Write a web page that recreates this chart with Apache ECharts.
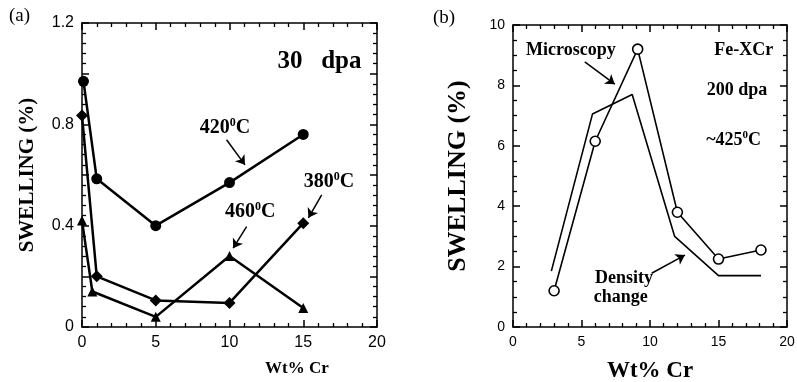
<!DOCTYPE html>
<html><head><meta charset="utf-8">
<script src="https://cdn.jsdelivr.net/npm/echarts@6/dist/echarts.min.js"></script>
<style>html,body{margin:0;padding:0;background:#fff}#c{width:797px;height:382px}</style>
</head><body><div id="c"></div>
<script>
// ---- Panel (a): 30 dpa ----
const a420x = [0.1, 1, 5, 10, 15];
const a420y = [0.97, 0.585, 0.40, 0.57, 0.76];
const a380x = [0, 1, 5, 10, 15];
const a380y = [0.835, 0.20, 0.105, 0.095, 0.41];
const a460x = [0, 0.7, 5, 10, 15];
const a460y = [0.42, 0.14, 0.04, 0.28, 0.075];
const aYLabels = ['0', '0.4', '0.8', '1.2'];
// ---- Panel (b): Fe-XCr, 200 dpa, ~425C ----
const bMicX = [3, 6, 9.1, 12, 15, 18.1];
const bMicY = [1.2, 6.15, 9.2, 3.8, 2.25, 2.55];
const bDenX = [2.8, 5.8, 8.7, 11.8, 15, 18.1];
const bDenY = [1.85, 7.05, 7.7, 3.0, 1.7, 1.7];

const zip = (xs, ys) => xs.map((x, i) => [x, ys[i]]);
const serif = 'Liberation Serif';
const sans = 'Liberation Sans';

function baseAx(grid, pos, show, fs, minorSplit) {
  return {
    type: 'value', gridIndex: grid, position: pos, min: 0,
    axisLine: { show: true, onZero: false, lineStyle: { color: '#000', width: 1.5 } },
    axisTick: { show: true, inside: true, length: 7, lineStyle: { color: '#000', width: 1.5 } },
    minorTick: { show: true, splitNumber: minorSplit, length: 4, lineStyle: { color: '#000', width: 1.3 } },
    splitLine: { show: false },
    axisLabel: { show: show, color: '#000', fontSize: fs, fontFamily: sans, margin: 8 }
  };
}
function xAx(grid, pos, show, fs) {
  const a = baseAx(grid, pos, show, fs, 5);
  a.max = 20; a.interval = 5;
  return a;
}
function yAxA(pos, show) {
  // 0..1.2 with nice auto step of 0.2 (six splits)
  const a = baseAx(0, pos, show, 16, 5);
  a.max = 1.2; a.splitNumber = 6;
  a.axisLabel.formatter = (v) => { const k = Math.round(v * 10); return k % 4 === 0 ? aYLabels[k / 4] : ''; };
  return a;
}
function yAxB(pos, show) {
  const a = baseAx(1, pos, show, 14, 4);
  a.max = 10; a.interval = 2;
  return a;
}

const supRich = (fs) => ({
  n: { fontFamily: serif, fontWeight: 'bold', fontSize: fs, color: '#000', lineHeight: fs + 2 },
  s: { fontFamily: serif, fontWeight: 'bold', fontSize: Math.round(fs * 0.62), color: '#000', verticalAlign: 'top', lineHeight: fs + 2 }
});
function txt(x, y, rich, fs) {
  return { coord: [x, y], value: 0, symbolSize: 0,
    label: { show: true, position: 'inside', formatter: rich, rich: supRich(fs) } };
}
function arrow(x1, y1, x2, y2) {
  return [{ coord: [x1, y1] }, { coord: [x2, y2] }];
}
const axisName = (fs) => ({ fontFamily: serif, fontWeight: 'bold', fontSize: fs, color: '#000' });

const xa0 = xAx(0, 'bottom', true, 16);
const xb0 = xAx(1, 'bottom', true, 14);
xb0.name = 'Wt% Cr'; xb0.nameLocation = 'middle'; xb0.nameGap = 33; xb0.nameTextStyle = axisName(23);
const ya0 = yAxA('left', true);
ya0.name = 'SWELLING (%)'; ya0.nameLocation = 'middle'; ya0.nameGap = 44; ya0.nameRotate = 90; ya0.nameTextStyle = axisName(21);
const yb0 = yAxB('left', true);
yb0.name = 'SWELLING (%)'; yb0.nameLocation = 'middle'; yb0.nameGap = 42; yb0.nameRotate = 90; yb0.nameTextStyle = axisName(26);
const ya1 = yAxA('right', false);
delete ya1.axisLabel.formatter;

const lineA = { color: '#000', width: 2.5 };
const lineB = { color: '#000', width: 1.6 };

const option = {
  animation: false,
  backgroundColor: '#fff',
  title: [
    { text: '(a)', left: 4, top: 2, textStyle: { fontFamily: serif, fontWeight: 'normal', fontSize: 19, color: '#000' } },
    { text: '(b)', left: 428, top: 4, textStyle: { fontFamily: serif, fontWeight: 'normal', fontSize: 19, color: '#000' } },
    { text: 'Wt% Cr', left: 265, top: 360, padding: 0, textStyle: { fontFamily: serif, fontWeight: 'bold', fontSize: 17, color: '#000' } }
  ],
  grid: [
    { left: 82, top: 23, width: 295, height: 304, outerBoundsMode: 'none' },
    { left: 513, top: 25, width: 274, height: 302, outerBoundsMode: 'none' }
  ],
  xAxis: [xa0, xAx(0, 'top', false, 16), xb0, xAx(1, 'top', false, 14)],
  yAxis: [ya0, ya1, yb0, yAxB('right', false)],
  series: [
    { type: 'line', xAxisIndex: 0, yAxisIndex: 0, data: zip(a420x, a420y), symbol: 'circle', symbolSize: 11,
      itemStyle: { color: '#000' }, lineStyle: lineA,
      markPoint: { silent: true, data: [
        txt(16.1, 1.047, '{n|30   dpa}', 25),
        txt(9.7, 0.787, '{n|420}{s|0}{n|C}', 20),
        txt(16.75, 0.573, '{n|380}{s|0}{n|C}', 20),
        txt(11.4, 0.455, '{n|460}{s|0}{n|C}', 20)
      ] },
      markLine: { silent: true, symbol: ['none', 'arrow'], symbolSize: 9, label: { show: false },
        lineStyle: { color: '#000', width: 1.5, type: 'solid' },
        data: [arrow(9.8, 0.739, 11.05, 0.64), arrow(16.25, 0.522, 15.35, 0.431), arrow(11.16, 0.396, 10.25, 0.311)] } },
    { type: 'line', xAxisIndex: 0, yAxisIndex: 0, data: zip(a380x, a380y), symbol: 'diamond', symbolSize: 12,
      itemStyle: { color: '#000' }, lineStyle: lineA },
    { type: 'line', xAxisIndex: 0, yAxisIndex: 0, data: zip(a460x, a460y), symbol: 'triangle', symbolSize: 10,
      itemStyle: { color: '#000' }, lineStyle: lineA },
    { type: 'line', xAxisIndex: 2, yAxisIndex: 2, data: zip(bMicX, bMicY), symbol: 'circle', symbolSize: 10,
      showAllSymbol: true,
      itemStyle: { color: '#fff', borderColor: '#000', borderWidth: 1.6 }, lineStyle: lineB,
      markPoint: { silent: true, data: [
        txt(4.22, 9.17, '{n|Microscopy}', 18),
        txt(16.85, 9.17, '{n|Fe-XCr}', 18),
        txt(16.35, 7.85, '{n|200 dpa}', 18),
        txt(16.1, 6.19, '{n|~425}{s|0}{n|C}', 18),
        txt(8.1, 1.61, '{n|Density}', 18),
        txt(7.87, 0.98, '{n|change}', 18)
      ] },
      markLine: { silent: true, symbol: ['none', 'arrow'], symbolSize: 9, label: { show: false },
        lineStyle: { color: '#000', width: 1.5, type: 'solid' },
        data: [arrow(5.24, 8.78, 7.43, 8.04), arrow(10.12, 1.78, 12.55, 2.38)] } },
    { type: 'line', xAxisIndex: 2, yAxisIndex: 2, data: zip(bDenX, bDenY), symbol: 'none', lineStyle: lineB }
  ]
};
echarts.init(document.getElementById('c')).setOption(option);
</script></body></html>
